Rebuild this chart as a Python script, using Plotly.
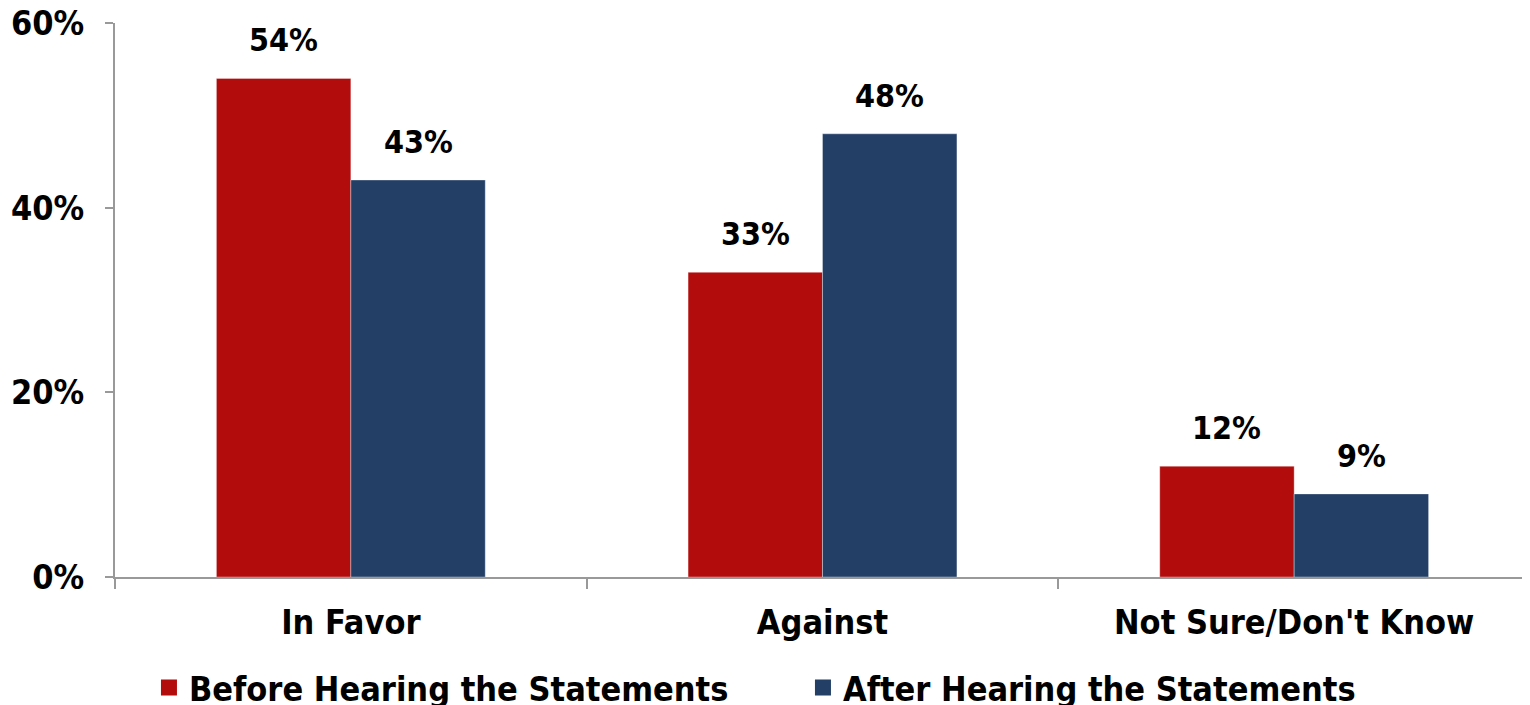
import plotly.graph_objects as go

categories = ["In Favor", "Against", "Not Sure/Don't Know"]
before = [54, 33, 12]
after = [43, 48, 9]
series_names = ["Before Hearing the Statements", "After Hearing the Statements"]
y_ticks = [0, 20, 40, 60]
y_tick_labels = ["0%", "20%", "40%", "60%"]

FONT = "DejaVu Sans Condensed, DejaVu Sans, sans-serif"
RED = "#B20C0C"
BLUE = "#233F66"
SIZE = 34
BARGAP = 0.43

fig = go.Figure()
series = [(series_names[0], before, RED), (series_names[1], after, BLUE)]
for name, vals, col in series:
    fig.add_trace(go.Bar(
        x=categories, y=vals, name=name, showlegend=False,
        marker=dict(color=col, line=dict(color="rgba(255,255,255,0.35)", width=1)),
        cliponaxis=False,
    ))
# legend entries with larger square swatches
for name, vals, col in series:
    fig.add_trace(go.Scatter(
        x=[None], y=[None], name=name, mode="markers",
        marker=dict(symbol="square", size=16, color=col), showlegend=True,
    ))

# data labels above each bar
bw = (1 - BARGAP) / 2
for si, (name, vals, col) in enumerate(series):
    off = (si - 0.5) * bw
    for ci, v in enumerate(vals):
        fig.add_annotation(
            x=ci + off, y=v, xref="x", yref="y", text=f"{v}%",
            showarrow=False, yanchor="middle", yshift=38,
            font=dict(family=FONT, size=SIZE - 2, color="black", weight="bold"),
        )

fig.update_layout(
    width=1522, height=697,
    margin=dict(l=107, r=0, t=15, b=128, autoexpand=False),
    paper_bgcolor="white", plot_bgcolor="white",
    barmode="group", bargap=BARGAP, bargroupgap=0,
    font=dict(family=FONT, size=SIZE, color="black", weight="bold"),
    legend=dict(orientation="h", x=0.024, xanchor="left", y=-0.2, yanchor="middle",
                font=dict(family=FONT, size=SIZE, color="black", weight="bold"),
                entrywidth=609, entrywidthmode="pixels", itemsizing="trace",
                itemwidth=30, tracegroupgap=0, bgcolor="rgba(0,0,0,0)"),
    showlegend=True,
)
fig.update_xaxes(showline=True, linecolor="#999999", linewidth=2, automargin=False,
                 ticks="outside", tickson="boundaries", ticklen=10, tickcolor="#999999",
                 tickwidth=2, ticklabelstandoff=14,
                 tickfont=dict(family=FONT, size=SIZE, color="black", weight="bold"),
                 showgrid=False)
fig.update_yaxes(range=[0, 60], tickvals=y_ticks, ticktext=y_tick_labels, automargin=False,
                 showline=True, linecolor="#999999", linewidth=2,
                 ticks="outside", ticklen=8, tickcolor="#999999", tickwidth=2,
                 ticklabelstandoff=14, ticklabeloverflow="allow",
                 tickfont=dict(family=FONT, size=SIZE, color="black", weight="bold"),
                 showgrid=False, zeroline=False)

fig.write_html("out.html")
